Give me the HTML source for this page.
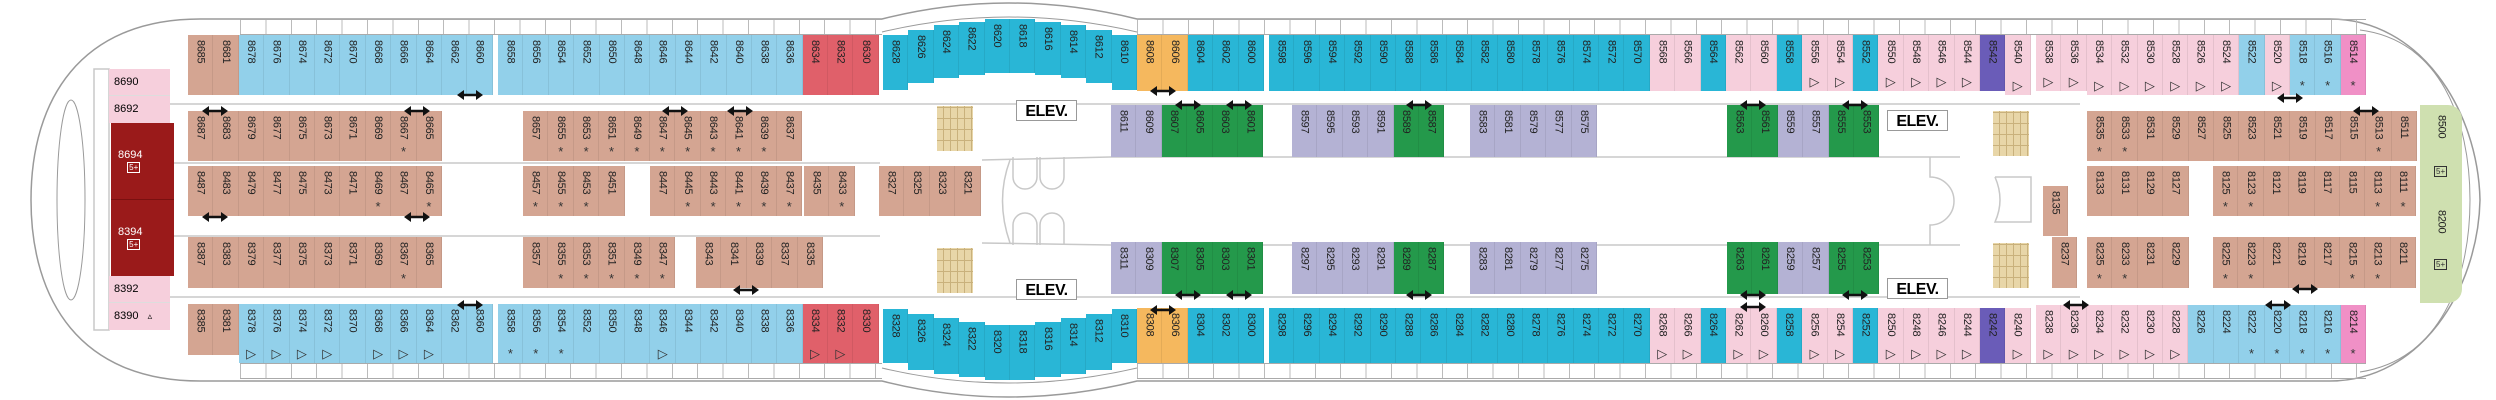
<!DOCTYPE html>
<html><head><meta charset="utf-8">
<style>
html,body{margin:0;padding:0;background:#fff}
#w{position:relative;width:2496px;height:400px;overflow:hidden;background:#fff;font-family:"Liberation Sans",sans-serif}
svg{position:absolute;left:0;top:0}
.r{position:absolute;display:flex;align-items:flex-start;z-index:1}
.r i{position:relative;display:block;flex:none;width:25.4px;height:var(--h);background:var(--c);writing-mode:vertical-rl;font-style:normal;font-size:11px;line-height:25px;padding-top:5px;box-sizing:border-box;color:#222;border-right:1px solid rgba(0,0,0,.07);letter-spacing:-.3px}
.r i b{position:absolute;left:0;right:0;bottom:3px;writing-mode:horizontal-tb;text-align:center;font-weight:normal;line-height:12px;font-size:13px;color:#333}
.r i.lb{background:#92d0ea}.r i.t{background:#29b6d6}.r i.br{background:#d4a592}.r i.rd{background:#e0606a}
.r i.or{background:#f5b85e}.r i.lv{background:#b4b2d4}.r i.gr{background:#24994b}.r i.pk{background:#f6cfdc}
.r i.pu{background:#6a5cb8}.r i.hp{background:#f090c6}
.bx{position:absolute;box-sizing:border-box;font-size:11px;z-index:1}
.el{position:absolute;width:61px;height:21px;border:1px solid #999;background:#fff;font-weight:bold;font-size:16px;text-align:center;line-height:21px;box-sizing:border-box;z-index:1;letter-spacing:-.5px}
.st{position:absolute;width:36px;height:45px;background:#e8d6a8;z-index:1;background-image:repeating-linear-gradient(90deg,transparent 0 6px,#c9b17c 6px 7px),repeating-linear-gradient(0deg,transparent 0 10px,#c9b17c 10px 11px)}
.strip{position:absolute;height:16px;border-top:1px solid #aaa;border-bottom:1px solid #aaa;background:repeating-linear-gradient(90deg,#bbb 0 1px,transparent 1px 25.4px);z-index:1;box-sizing:border-box}
.ic{display:inline-block;border:1px solid currentColor;font-size:8px;line-height:9px;padding:0 1px}
</style></head><body><div id="w">
<svg width="2496" height="400">
<g fill="none" stroke="#9a9a9a" stroke-width="1.5">
<path d="M200 19 C80 19 31 100 31 200 C31 300 80 381 200 381"/>
<path d="M200 19 L882 19 Q1008 -13 1137 19 L2330 19 C2420 19 2478 110 2480 200 C2478 290 2420 381 2330 381 L1137 381 Q1008 413 882 381 L200 381"/>
<path d="M882 32 Q1008 2 1137 32" stroke-width="1"/>
<path d="M882 368 Q1008 398 1137 368" stroke-width="1"/>
<path d="M2360 30 C2440 40 2470 120 2470 200 C2470 280 2440 360 2360 372" stroke-width="1"/>
<ellipse cx="71" cy="200" rx="14" ry="100" stroke-width="1"/>
</g>
<g stroke="#c8c8c8" stroke-width="1.5" fill="none">
<line x1="160" y1="104" x2="2080" y2="104"/><line x1="160" y1="297" x2="2080" y2="297"/>
<line x1="160" y1="163" x2="880" y2="163"/><line x1="160" y1="236" x2="880" y2="236"/>
<path d="M982 160 L1110 157 L1960 157 M982 243 L1110 245 L1960 245"/>
<path d="M1010 160 Q995 200 1010 243"/>
<path d="M1013 157 v20 a12 12 0 0 0 24 0 v-20 M1040 157 v20 a12 12 0 0 0 24 0 v-20"/>
<path d="M1013 245 v-20 a12 12 0 0 1 24 0 v20 M1040 245 v-20 a12 12 0 0 1 24 0 v20"/>
<path d="M1930 157 v20 a12 12 0 0 1 0 48 v20 M1995 177 h36 v45 h-36 q10 -22 0 -45"/>
<rect x="94" y="69" width="15" height="261"/>
</g>
</svg>
<div class="strip" style="left:240px;top:19px;width:642px"></div>
<div class="strip" style="left:1137px;top:19px;width:1229px"></div>
<div class="strip" style="left:240px;top:363px;width:642px"></div>
<div class="strip" style="left:1137px;top:363px;width:1229px"></div>

<!-- left end -->
<div class="bx" style="left:109px;top:69px;width:61px;height:27px;background:#f6cfdc;padding:7px 0 0 5px;border-bottom:1px solid #ddd">8690</div>
<div class="bx" style="left:109px;top:96px;width:61px;height:27px;background:#f6cfdc;padding:7px 0 0 5px">8692</div>
<div class="bx" style="left:111px;top:123px;width:63px;height:77px;background:#9a1a1a;color:#fff;padding:26px 0 0 7px;border-bottom:1px solid #7a1010">8694<br>&nbsp;&nbsp;&nbsp;<span class="ic">5+</span></div>
<div class="bx" style="left:111px;top:200px;width:63px;height:76px;background:#9a1a1a;color:#fff;padding:26px 0 0 7px">8394<br>&nbsp;&nbsp;&nbsp;<span class="ic">5+</span></div>
<div class="bx" style="left:109px;top:276px;width:61px;height:27px;background:#f6cfdc;padding:7px 0 0 5px;border-bottom:1px solid #ddd">8392</div>
<div class="bx" style="left:109px;top:303px;width:61px;height:27px;background:#f6cfdc;padding:7px 0 0 5px">8390 &nbsp; <span style="font-size:9px">▵</span></div>

<!-- top rows -->
<div class="r" style="left:188px;top:35px;--h:60px;--c:#92d0ea"><i class="br">8685</i><i class="br">8681</i><i>8678</i><i>8676</i><i>8674</i><i>8672</i><i>8670</i><i>8668</i><i>8666</i><i>8664</i><i>8662</i><i>8660</i></div>
<div class="r" style="left:498px;top:35px;--h:60px;--c:#92d0ea"><i>8658</i><i>8656</i><i>8654</i><i>8652</i><i>8650</i><i>8648</i><i>8646</i><i>8644</i><i>8642</i><i>8640</i><i>8638</i><i>8636</i><i class="rd">8634</i><i class="rd">8632</i><i class="rd">8630</i></div>
<div class="r" style="left:883px;top:35px;--h:55px;--c:#29b6d6"><i>8628</i></div>
<div class="r" style="left:908.4px;top:30px;--h:53px;--c:#29b6d6"><i>8626</i></div>
<div class="r" style="left:933.8px;top:25px;--h:53px;--c:#29b6d6"><i>8624</i></div>
<div class="r" style="left:959.2px;top:22px;--h:53px;--c:#29b6d6"><i>8622</i></div>
<div class="r" style="left:984.6px;top:19px;--h:54px;--c:#29b6d6"><i>8620</i></div>
<div class="r" style="left:1010px;top:19px;--h:54px;--c:#29b6d6"><i>8618</i></div>
<div class="r" style="left:1035.4px;top:22px;--h:53px;--c:#29b6d6"><i>8616</i></div>
<div class="r" style="left:1060.8px;top:25px;--h:53px;--c:#29b6d6"><i>8614</i></div>
<div class="r" style="left:1086.2px;top:30px;--h:53px;--c:#29b6d6"><i>8612</i></div>
<div class="r" style="left:1111.6px;top:35px;--h:55px;--c:#29b6d6"><i>8610</i></div>
<div class="r" style="left:1137px;top:35px;--h:56px;--c:#29b6d6"><i class="or">8608</i><i class="or">8606</i><i>8604</i><i>8602</i><i>8600</i></div>
<div class="r" style="left:1269px;top:35px;--h:56px;--c:#29b6d6"><i>8598</i><i>8596</i><i>8594</i><i>8592</i><i>8590</i><i>8588</i><i>8586</i><i>8584</i><i>8582</i><i>8580</i><i>8578</i><i>8576</i><i>8574</i><i>8572</i><i>8570</i><i class="pk">8568</i><i class="pk">8566</i><i>8564</i><i class="pk">8562</i><i class="pk">8560</i><i>8558</i><i class="pk">8556<b>▷</b></i><i class="pk">8554<b>▷</b></i><i>8552</i><i class="pk">8550<b>▷</b></i><i class="pk">8548<b>▷</b></i><i class="pk">8546<b>▷</b></i><i class="pk">8544<b>▷</b></i><i class="pu">8542</i><i class="pk" style="height:60px">8540<b>▷</b></i></div>
<div class="r" style="left:2036px;top:35px;--h:60px;--c:#f6cfdc"><i style="height:56px">8538<b>▷</b></i><i style="height:56px">8536<b>▷</b></i><i>8534<b>▷</b></i><i>8532<b>▷</b></i><i>8530<b>▷</b></i><i>8528<b>▷</b></i><i>8526<b>▷</b></i><i>8524<b>▷</b></i><i class="lb">8522</i><i>8520<b>▷</b></i><i class="lb">8518<b>*</b></i><i class="lb">8516<b>*</b></i><i class="hp">8514<b>*</b></i></div>

<!-- bottom rows -->
<div class="r" style="left:188px;top:304px;--h:59px;--c:#92d0ea"><i class="br" style="height:51px">8385</i><i class="br" style="height:51px">8381</i><i>8378<b>▷</b></i><i>8376<b>▷</b></i><i>8374<b>▷</b></i><i>8372<b>▷</b></i><i>8370</i><i>8368<b>▷</b></i><i>8366<b>▷</b></i><i>8364<b>▷</b></i><i>8362</i><i>8360</i></div>
<div class="r" style="left:498px;top:304px;--h:59px;--c:#92d0ea"><i>8358<b>*</b></i><i>8356<b>*</b></i><i>8354<b>*</b></i><i>8352</i><i>8350</i><i>8348</i><i>8346<b>▷</b></i><i>8344</i><i>8342</i><i>8340</i><i>8338</i><i>8336</i><i class="rd">8334<b>▷</b></i><i class="rd">8332<b>▷</b></i><i class="rd">8330</i></div>
<div class="r" style="left:883px;top:309px;--h:54px;--c:#29b6d6"><i>8328</i></div>
<div class="r" style="left:908.4px;top:314px;--h:56px;--c:#29b6d6"><i>8326</i></div>
<div class="r" style="left:933.8px;top:318px;--h:56px;--c:#29b6d6"><i>8324</i></div>
<div class="r" style="left:959.2px;top:322px;--h:55px;--c:#29b6d6"><i>8322</i></div>
<div class="r" style="left:984.6px;top:325px;--h:55px;--c:#29b6d6"><i>8320</i></div>
<div class="r" style="left:1010px;top:325px;--h:55px;--c:#29b6d6"><i>8318</i></div>
<div class="r" style="left:1035.4px;top:322px;--h:55px;--c:#29b6d6"><i>8316</i></div>
<div class="r" style="left:1060.8px;top:318px;--h:56px;--c:#29b6d6"><i>8314</i></div>
<div class="r" style="left:1086.2px;top:314px;--h:56px;--c:#29b6d6"><i>8312</i></div>
<div class="r" style="left:1111.6px;top:309px;--h:54px;--c:#29b6d6"><i>8310</i></div>
<div class="r" style="left:1137px;top:308px;--h:55px;--c:#29b6d6"><i class="or">8308</i><i class="or">8306</i><i>8304</i><i>8302</i><i>8300</i></div>
<div class="r" style="left:1269px;top:308px;--h:55px;--c:#29b6d6"><i>8298</i><i>8296</i><i>8294</i><i>8292</i><i>8290</i><i>8288</i><i>8286</i><i>8284</i><i>8282</i><i>8280</i><i>8278</i><i>8276</i><i>8274</i><i>8272</i><i>8270</i><i class="pk">8268<b>▷</b></i><i class="pk">8266<b>▷</b></i><i>8264</i><i class="pk">8262<b>▷</b></i><i class="pk">8260<b>▷</b></i><i>8258</i><i class="pk">8256<b>▷</b></i><i class="pk">8254<b>▷</b></i><i>8252</i><i class="pk">8250<b>▷</b></i><i class="pk">8248<b>▷</b></i><i class="pk">8246<b>▷</b></i><i class="pk">8244<b>▷</b></i><i class="pu">8242</i><i class="pk">8240<b>▷</b></i></div>
<div class="r" style="left:2036px;top:305px;--h:58px;--c:#f6cfdc"><i>8238<b>▷</b></i><i>8236<b>▷</b></i><i>8234<b>▷</b></i><i>8232<b>▷</b></i><i>8230<b>▷</b></i><i>8228<b>▷</b></i><i class="lb">8226</i><i class="lb">8224</i><i class="lb">8222<b>*</b></i><i class="lb">8220<b>*</b></i><i class="lb">8218<b>*</b></i><i class="lb">8216<b>*</b></i><i class="hp">8214<b>*</b></i></div>

<!-- interior left -->
<div class="r" style="left:188px;top:111px;--h:50px;--c:#d4a592"><i>8687</i><i>8683</i><i>8679</i><i>8677</i><i>8675</i><i>8673</i><i>8671</i><i>8669</i><i>8667<b>*</b></i><i>8665</i></div>
<div class="r" style="left:523px;top:111px;--h:50px;--c:#d4a592"><i>8657</i><i>8655<b>*</b></i><i>8653<b>*</b></i><i>8651<b>*</b></i><i>8649<b>*</b></i><i>8647<b>*</b></i><i>8645<b>*</b></i><i>8643<b>*</b></i><i>8641<b>*</b></i><i>8639<b>*</b></i><i>8637</i></div>
<div class="r" style="left:188px;top:166px;--h:50px;--c:#d4a592"><i>8487</i><i>8483</i><i>8479</i><i>8477</i><i>8475</i><i>8473</i><i>8471</i><i>8469<b>*</b></i><i>8467</i><i>8465<b>*</b></i></div>
<div class="r" style="left:523px;top:166px;--h:50px;--c:#d4a592"><i>8457<b>*</b></i><i>8455<b>*</b></i><i>8453<b>*</b></i><i>8451</i></div>
<div class="r" style="left:650px;top:166px;--h:50px;--c:#d4a592"><i>8447</i><i>8445<b>*</b></i><i>8443<b>*</b></i><i>8441<b>*</b></i><i>8439<b>*</b></i><i>8437<b>*</b></i></div>
<div class="r" style="left:804px;top:166px;--h:50px;--c:#d4a592"><i>8435</i><i>8433<b>*</b></i></div>
<div class="r" style="left:879px;top:166px;--h:50px;--c:#d4a592"><i>8327</i><i>8325</i><i>8323</i><i>8321</i></div>
<div class="r" style="left:188px;top:237px;--h:51px;--c:#d4a592"><i>8387</i><i>8383</i><i>8379</i><i>8377</i><i>8375</i><i>8373</i><i>8371</i><i>8369</i><i>8367<b>*</b></i><i>8365</i></div>
<div class="r" style="left:523px;top:237px;--h:51px;--c:#d4a592"><i>8357</i><i>8355<b>*</b></i><i>8353<b>*</b></i><i>8351<b>*</b></i><i>8349<b>*</b></i><i>8347<b>*</b></i></div>
<div class="r" style="left:696px;top:237px;--h:51px;--c:#d4a592"><i>8343</i><i>8341</i><i>8339</i><i>8337</i><i>8335</i></div>

<!-- interior right -->
<div class="r" style="left:1111px;top:105px;--h:52px;--c:#b4b2d4"><i>8611</i><i>8609</i><i class="gr">8607</i><i class="gr">8605</i><i class="gr">8603</i><i class="gr">8601</i></div>
<div class="r" style="left:1292px;top:105px;--h:52px;--c:#b4b2d4"><i>8597</i><i>8595</i><i>8593</i><i>8591</i><i class="gr">8589</i><i class="gr">8587</i></div>
<div class="r" style="left:1470px;top:105px;--h:52px;--c:#b4b2d4"><i>8583</i><i>8581</i><i>8579</i><i>8577</i><i>8575</i></div>
<div class="r" style="left:1727px;top:105px;--h:52px;--c:#b4b2d4"><i class="gr">8563</i><i class="gr">8561</i><i>8559</i><i>8557</i><i class="gr">8555</i><i class="gr">8553</i></div>
<div class="r" style="left:1111px;top:242px;--h:52px;--c:#b4b2d4"><i>8311</i><i>8309</i><i class="gr">8307</i><i class="gr">8305</i><i class="gr">8303</i><i class="gr">8301</i></div>
<div class="r" style="left:1292px;top:242px;--h:52px;--c:#b4b2d4"><i>8297</i><i>8295</i><i>8293</i><i>8291</i><i class="gr">8289</i><i class="gr">8287</i></div>
<div class="r" style="left:1470px;top:242px;--h:52px;--c:#b4b2d4"><i>8283</i><i>8281</i><i>8279</i><i>8277</i><i>8275</i></div>
<div class="r" style="left:1727px;top:242px;--h:52px;--c:#b4b2d4"><i class="gr">8263</i><i class="gr">8261</i><i>8259</i><i>8257</i><i class="gr">8255</i><i class="gr">8253</i></div>

<div class="r" style="left:2087px;top:111px;--h:50px;--c:#d4a592"><i>8535<b>*</b></i><i>8533<b>*</b></i><i>8531</i><i>8529</i><i>8527</i><i>8525</i><i>8523</i><i>8521</i><i>8519</i><i>8517</i><i>8515</i><i>8513<b>*</b></i><i>8511</i></div>
<div class="r" style="left:2087px;top:166px;--h:50px;--c:#d4a592"><i>8133</i><i>8131</i><i>8129</i><i>8127</i></div>
<div class="r" style="left:2213px;top:166px;--h:50px;--c:#d4a592"><i>8125<b>*</b></i><i>8123<b>*</b></i><i>8121</i><i>8119</i><i>8117</i><i>8115</i><i>8113<b>*</b></i><i>8111<b>*</b></i></div>
<div class="r" style="left:2043px;top:186px;--h:50px;--c:#d4a592"><i>8135</i></div>
<div class="r" style="left:2052px;top:237px;--h:51px;--c:#d4a592"><i>8237</i></div>
<div class="r" style="left:2087px;top:237px;--h:51px;--c:#d4a592"><i>8235<b>*</b></i><i>8233<b>*</b></i><i>8231</i><i>8229</i></div>
<div class="r" style="left:2213px;top:237px;--h:51px;--c:#d4a592"><i>8225<b>*</b></i><i>8223<b>*</b></i><i>8221</i><i>8219</i><i>8217</i><i>8215<b>*</b></i><i>8213<b>*</b></i><i>8211</i></div>

<div class="bx" style="left:2420px;top:105px;width:42px;height:198px;background:#cfe0b0;border-radius:0 14px 14px 0"></div>
<div class="r" style="left:2428px;top:110px;--h:90px;--c:transparent"><i style="border:0">8500</i></div>
<div class="r" style="left:2428px;top:205px;--h:90px;--c:transparent"><i style="border:0">8200</i></div>
<div class="bx" style="left:2434px;top:165px"><span class="ic" style="color:#333">5+</span></div>
<div class="bx" style="left:2434px;top:258px"><span class="ic" style="color:#333">5+</span></div>

<div class="el" style="left:1016px;top:100px">ELEV.</div>
<div class="el" style="left:1016px;top:279px">ELEV.</div>
<div class="el" style="left:1887px;top:110px">ELEV.</div>
<div class="el" style="left:1887px;top:278px">ELEV.</div>
<div class="st" style="left:937px;top:106px"></div>
<div class="st" style="left:937px;top:248px"></div>
<div class="st" style="left:1993px;top:111px"></div>
<div class="st" style="left:1993px;top:243px"></div>

<svg width="2496" height="400" style="z-index:3">
<defs><symbol id="a" viewBox="0 0 26 10" overflow="visible"><path d="M4 5 H22" stroke="#111" stroke-width="2.6"/><path d="M0 5 L7 0 L7 10 Z M26 5 L19 0 L19 10 Z" fill="#111"/></symbol></defs>
<g>
<use href="#a" x="202" y="106" width="26" height="10"/>
<use href="#a" x="404" y="106" width="26" height="10"/>
<use href="#a" x="457" y="90" width="26" height="10"/>
<use href="#a" x="202" y="212" width="26" height="10"/>
<use href="#a" x="404" y="212" width="26" height="10"/>
<use href="#a" x="457" y="300" width="26" height="10"/>
<use href="#a" x="662" y="106" width="26" height="10"/>
<use href="#a" x="727" y="106" width="26" height="10"/>
<use href="#a" x="733" y="285" width="26" height="10"/>
<use href="#a" x="1150" y="86" width="26" height="10"/>
<use href="#a" x="1175" y="100" width="26" height="10"/>
<use href="#a" x="1226" y="100" width="26" height="10"/>
<use href="#a" x="1150" y="305" width="26" height="10"/>
<use href="#a" x="1175" y="290" width="26" height="10"/>
<use href="#a" x="1226" y="290" width="26" height="10"/>
<use href="#a" x="1406" y="100" width="26" height="10"/>
<use href="#a" x="1406" y="290" width="26" height="10"/>
<use href="#a" x="1740" y="100" width="26" height="10"/>
<use href="#a" x="1842" y="100" width="26" height="10"/>
<use href="#a" x="1740" y="290" width="26" height="10"/>
<use href="#a" x="1740" y="302" width="26" height="10"/>
<use href="#a" x="1842" y="290" width="26" height="10"/>
<use href="#a" x="2277" y="93" width="26" height="10"/>
<use href="#a" x="2353" y="106" width="26" height="10"/>
<use href="#a" x="2063" y="300" width="26" height="10"/>
<use href="#a" x="2265" y="300" width="26" height="10"/>
<use href="#a" x="2292" y="284" width="26" height="10"/>
</g></svg>
</div></body></html>
